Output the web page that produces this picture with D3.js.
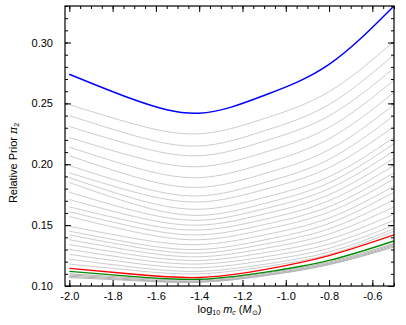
<!DOCTYPE html>
<html>
<head>
<meta charset="utf-8">
<script src="https://cdn.jsdelivr.net/npm/d3@7"></script>
<style>
  body { margin: 0; background: #fff; }
  text { font-family: "Liberation Sans", Arial, sans-serif; }
</style>
</head>
<body>
<div id="chart"></div>
<script>
// sample positions of every curve (log10 mc)
let xs = [-2.0, -1.7, -1.4, -1.1, -0.8, -0.5];

let blueCurve = [0.274, 0.253, 0.242, 0.2565, 0.282, 0.330];
let redCurve = [0.1145, 0.1096, 0.107, 0.1135, 0.125, 0.142];
let greenCurve = [0.112, 0.1077, 0.1055, 0.1112, 0.121, 0.137];

let grayCurves = [
    [0.249, 0.233, 0.225, 0.2375, 0.2596, 0.301],
    [0.240, 0.2235, 0.215, 0.2274, 0.2491, 0.290],
    [0.231, 0.2152, 0.207, 0.2189, 0.2398, 0.279],
    [0.222, 0.2062, 0.198, 0.2097, 0.2303, 0.269],
    [0.214, 0.1975, 0.189, 0.2006, 0.2209, 0.259],
    [0.207, 0.1898, 0.181, 0.1922, 0.2119, 0.249],
    [0.199, 0.1825, 0.174, 0.1849, 0.2040, 0.240],
    [0.193, 0.1772, 0.169, 0.1792, 0.1972, 0.231],
    [0.189, 0.1718, 0.163, 0.1727, 0.1898, 0.222],
    [0.185, 0.1672, 0.158, 0.1677, 0.1848, 0.217],
    [0.177, 0.1618, 0.154, 0.1634, 0.1799, 0.211],
    [0.171, 0.1571, 0.150, 0.1591, 0.1750, 0.205],
    [0.165, 0.1525, 0.146, 0.1547, 0.1701, 0.199],
    [0.161, 0.1485, 0.142, 0.1504, 0.1652, 0.193],
    [0.157, 0.1445, 0.138, 0.1463, 0.1608, 0.188],
    [0.149, 0.1391, 0.134, 0.1419, 0.1558, 0.182],
    [0.145, 0.1351, 0.130, 0.1378, 0.1514, 0.177],
    [0.142, 0.1321, 0.127, 0.1343, 0.1470, 0.171],
    [0.138, 0.1288, 0.124, 0.1308, 0.1427, 0.165],
    [0.134, 0.1254, 0.121, 0.1273, 0.1383, 0.159],
    [0.130, 0.1221, 0.118, 0.1239, 0.1344, 0.154],
    [0.126, 0.1187, 0.115, 0.1208, 0.1309, 0.150],
    [0.122, 0.1154, 0.112, 0.1178, 0.1279, 0.147],
    [0.118, 0.1127, 0.110, 0.1158, 0.1259, 0.145]
];

// the dense bunch under the green curve
let lowGrayCurves = [
    [0.110, 0.1067, 0.105, 0.1104, 0.1197, 0.135],
    [0.109, 0.1057, 0.104, 0.1094, 0.1187, 0.134],
    [0.108, 0.1050, 0.1035, 0.1088, 0.1180, 0.133],
    [0.107, 0.1044, 0.103, 0.1083, 0.1175, 0.132]
];

let xMajor = [-2.0, -1.8, -1.6, -1.4, -1.2, -1.0, -0.8, -0.6];
let yMajor = [0.10, 0.15, 0.20, 0.25, 0.30];

let margin = {container_width: 406, container_height: 325, top: 6, right: 12, bottom: 39, left: 65},
    width = margin.container_width - margin.left - margin.right,
    height = margin.container_height - margin.top - margin.bottom;

let svg = d3.select("#chart")
    .append("svg")
    .attr("width", margin.container_width)
    .attr("height", margin.container_height)
    .append("g")
    .attr("transform", "translate(" + margin.left + "," + margin.top + ")");

let x = d3.scaleLinear()
    .domain([-2.02, -0.5])
    .range([0, width]);

let y = d3.scaleLinear()
    .domain([0.10, 0.33])
    .range([height, 0]);

let xMinor = d3.range(-2.0, -0.49, 0.05).map(function(d) { return +d.toFixed(2); });
let yMinor = d3.range(0.10, 0.331, 0.01).map(function(d) { return +d.toFixed(2); });

svg.append("defs").append("clipPath")
    .attr("id", "surface")
    .append("rect")
    .attr("width", width)
    .attr("height", height);

let line = d3.line()
    .x(function(d, i) { return x(xs[i]); })
    .y(function(d) { return y(d); })
    .curve(d3.curveNatural);

let curves = svg.append("g").attr("clip-path", "url(#surface)");

curves.selectAll(".gray")
    .data(grayCurves)
    .enter()
    .append("path")
    .attr("class", "gray")
    .attr("d", line)
    .attr("fill", "none")
    .attr("stroke", "#cdcdcd")
    .attr("stroke-width", 1);

curves.selectAll(".lowgray")
    .data(lowGrayCurves)
    .enter()
    .append("path")
    .attr("class", "lowgray")
    .attr("d", line)
    .attr("fill", "none")
    .attr("stroke", "#b4b4b4")
    .attr("stroke-width", 1);

curves.append("path")
    .attr("d", line(greenCurve))
    .attr("fill", "none")
    .attr("stroke", "#008a00")
    .attr("stroke-width", 1.4);

curves.append("path")
    .attr("d", line(redCurve))
    .attr("fill", "none")
    .attr("stroke", "#ff0000")
    .attr("stroke-width", 1.4);

curves.append("path")
    .attr("d", line(blueCurve))
    .attr("fill", "none")
    .attr("stroke", "#0000ff")
    .attr("stroke-width", 1.5);

// axes: inward ticks on all four sides
function styleAxis(g) {
    g.select(".domain").remove();
    g.selectAll(".tick line").attr("stroke", "#000").attr("stroke-width", 1);
    g.selectAll("text").attr("font-size", 11).attr("fill", "#000")
        .style("font-family", "'Liberation Sans', Arial, sans-serif");
}

svg.append("g")
    .attr("transform", "translate(0," + height + ")")
    .call(d3.axisBottom(x).tickValues(xMinor).tickSize(-3).tickFormat(""))
    .call(styleAxis);
svg.append("g")
    .attr("transform", "translate(0," + height + ")")
    .call(d3.axisBottom(x).tickValues(xMajor).tickSize(-6).tickPadding(6)
        .tickFormat(function(d) { return d.toFixed(1); }))
    .call(styleAxis);
svg.append("g")
    .call(d3.axisTop(x).tickValues(xMinor).tickSize(-3).tickFormat(""))
    .call(styleAxis);
svg.append("g")
    .call(d3.axisTop(x).tickValues(xMajor).tickSize(-6).tickFormat(""))
    .call(styleAxis);

svg.append("g")
    .call(d3.axisLeft(y).tickValues(yMinor).tickSize(-3).tickFormat(""))
    .call(styleAxis);
svg.append("g")
    .call(d3.axisLeft(y).tickValues(yMajor).tickSize(-6).tickPadding(12)
        .tickFormat(function(d) { return d.toFixed(2); }))
    .call(styleAxis);
svg.append("g")
    .attr("transform", "translate(" + width + ",0)")
    .call(d3.axisRight(y).tickValues(yMinor).tickSize(-3).tickFormat(""))
    .call(styleAxis);
svg.append("g")
    .attr("transform", "translate(" + width + ",0)")
    .call(d3.axisRight(y).tickValues(yMajor).tickSize(-6).tickFormat(""))
    .call(styleAxis);

svg.append("rect")
    .attr("width", width)
    .attr("height", height)
    .attr("fill", "none")
    .attr("stroke", "#000")
    .attr("stroke-width", 1.2);

// axis titles
let xLabel = svg.append("text")
    .attr("x", width / 2)
    .attr("y", 307)
    .attr("text-anchor", "middle")
    .attr("font-size", 11);
xLabel.append("tspan").text("log");
xLabel.append("tspan").attr("font-size", 7).attr("dy", 2).text("10");
xLabel.append("tspan").attr("dy", -2).text(" ");
xLabel.append("tspan").attr("font-style", "italic").text("m");
xLabel.append("tspan").attr("font-size", 7).attr("font-style", "italic").attr("dy", 2).text("c");
xLabel.append("tspan").attr("dy", -2).text(" (");
xLabel.append("tspan").attr("font-style", "italic").text("M");
xLabel.append("tspan").attr("font-size", 7).attr("dy", 2).text("\u2299");
xLabel.append("tspan").attr("dy", -2).text(")");

let yLabel = svg.append("text")
    .attr("transform", "translate(" + (17 - margin.left) + "," + (163 - margin.top) + ") rotate(-90)")
    .attr("text-anchor", "middle")
    .attr("font-size", 11);
yLabel.append("tspan").text("Relative Prior ");
yLabel.append("tspan").attr("font-style", "italic").style("font-family", "'DejaVu Serif', serif").text("\u03c0");
yLabel.append("tspan").attr("font-size", 7).attr("dy", 2).text("2");
</script>
</body>
</html>
